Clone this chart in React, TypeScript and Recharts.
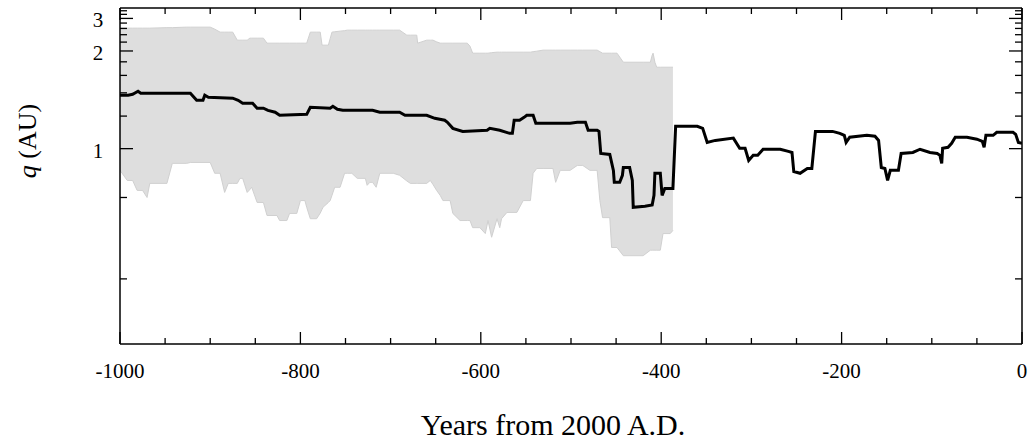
import React from 'react';
import { ComposedChart, Line, Area, XAxis, YAxis } from 'recharts';

// ---- data (years from 2000 A.D., perihelion distance q in AU) ----
const lineYears = [-1000, -991, -986, -980, -977, -922, -919, -915, -908, -906, -902, -875, -869, -864, -853, -848, -841, -836, -828, -823, -793, -789, -767, -764, -759, -753, -720, -712, -690, -684, -660, -651, -640, -637, -631, -620, -593, -590, -579, -568, -565, -563, -557, -552, -549, -542, -539, -501, -493, -484, -481, -471, -469, -467, -457, -453, -452, -446, -443, -442, -435, -432, -431, -418, -410, -408, -407, -401, -399, -396, -387, -384, -360, -354, -349, -340, -320, -313, -307, -303, -298, -293, -287, -268, -259, -255, -253, -246, -238, -233, -229, -210, -202, -197, -195, -191, -172, -163, -159, -156, -152, -149, -146, -137, -134, -121, -113, -102, -94, -91, -89, -88, -82, -78, -74, -61, -50, -44, -42, -40, -32, -28, -10, -7, -4, 0];
const lineQ = [1.376, 1.376, 1.386, 1.416, 1.396, 1.396, 1.366, 1.329, 1.329, 1.376, 1.357, 1.348, 1.329, 1.303, 1.303, 1.261, 1.261, 1.244, 1.229, 1.206, 1.213, 1.269, 1.261, 1.277, 1.252, 1.244, 1.244, 1.229, 1.229, 1.206, 1.206, 1.184, 1.17, 1.156, 1.116, 1.097, 1.104, 1.116, 1.104, 1.085, 1.085, 1.17, 1.17, 1.191, 1.206, 1.206, 1.149, 1.149, 1.156, 1.156, 1.104, 1.104, 1.097, 0.976, 0.971, 0.9, 0.853, 0.853, 0.88, 0.912, 0.912, 0.86, 0.769, 0.772, 0.776, 0.807, 0.888, 0.888, 0.807, 0.831, 0.831, 1.129, 1.129, 1.116, 1.033, 1.044, 1.057, 1.002, 1.002, 0.943, 0.967, 0.967, 0.997, 0.997, 0.986, 0.981, 0.895, 0.888, 0.908, 0.908, 1.097, 1.097, 1.085, 1.073, 1.033, 1.062, 1.073, 1.068, 1.044, 0.912, 0.908, 0.86, 0.9, 0.9, 0.976, 0.981, 0.997, 0.981, 0.976, 0.967, 0.93, 1.002, 1.007, 1.028, 1.062, 1.062, 1.051, 1.039, 1.007, 1.073, 1.073, 1.091, 1.091, 1.079, 1.033, 1.028];

const bandYears = [-1000, -992, -986, -981, -975, -970, -967, -948, -942, -926, -922, -900, -895, -889, -884, -880, -875, -870, -867, -864, -859, -856, -854, -848, -841, -837, -826, -823, -815, -812, -804, -800, -795, -793, -789, -782, -778, -776, -775, -769, -767, -765, -762, -756, -751, -748, -743, -737, -728, -726, -723, -720, -716, -712, -697, -690, -682, -678, -671, -670, -660, -656, -653, -649, -645, -642, -634, -631, -623, -615, -612, -609, -601, -595, -592, -588, -582, -579, -577, -571, -560, -553, -545, -542, -538, -531, -520, -517, -512, -501, -493, -487, -479, -471, -468, -465, -457, -455, -449, -442, -420, -412, -410, -409, -407, -405, -401, -398, -390, -387];
const bandLow = [0.9, 0.86, 0.86, 0.824, 0.824, 0.8, 0.849, 0.849, 0.93, 0.93, 0.934, 0.934, 0.888, 0.888, 0.817, 0.849, 0.849, 0.849, 0.868, 0.868, 0.817, 0.827, 0.835, 0.784, 0.784, 0.745, 0.745, 0.731, 0.731, 0.751, 0.751, 0.79, 0.79, 0.769, 0.736, 0.736, 0.752, 0.763, 0.769, 0.784, 0.79, 0.807, 0.835, 0.835, 0.888, 0.888, 0.888, 0.868, 0.868, 0.842, 0.853, 0.853, 0.835, 0.888, 0.888, 0.88, 0.858, 0.849, 0.849, 0.849, 0.849, 0.86, 0.845, 0.824, 0.807, 0.79, 0.79, 0.751, 0.731, 0.731, 0.731, 0.712, 0.712, 0.697, 0.731, 0.688, 0.736, 0.712, 0.736, 0.754, 0.754, 0.79, 0.79, 0.888, 0.908, 0.908, 0.908, 0.853, 0.9, 0.9, 0.921, 0.921, 0.9, 0.9, 0.79, 0.739, 0.739, 0.664, 0.664, 0.646, 0.646, 0.658, 0.658, 0.658, 0.658, 0.658, 0.658, 0.697, 0.697, 0.705];
const bandHigh = [2.61, 2.61, 2.61, 2.61, 2.61, 2.61, 2.61, 2.628, 2.628, 2.646, 2.646, 2.646, 2.576, 2.478, 2.478, 2.478, 2.478, 2.249, 2.249, 2.249, 2.249, 2.302, 2.302, 2.302, 2.302, 2.174, 2.174, 2.174, 2.174, 2.174, 2.174, 2.174, 2.174, 2.174, 2.478, 2.478, 2.478, 2.127, 2.127, 2.127, 2.289, 2.478, 2.49, 2.51, 2.526, 2.542, 2.542, 2.542, 2.542, 2.542, 2.542, 2.542, 2.542, 2.542, 2.542, 2.542, 2.387, 2.387, 2.387, 2.174, 2.249, 2.249, 2.249, 2.206, 2.174, 2.174, 2.174, 2.174, 2.174, 2.174, 2.104, 1.956, 1.956, 1.956, 1.956, 1.966, 1.976, 1.976, 1.976, 1.976, 1.976, 1.976, 1.976, 1.986, 1.996, 2.017, 2.017, 2.017, 2.017, 2.017, 2.017, 2.017, 2.017, 2.017, 1.986, 1.956, 1.956, 1.956, 1.956, 1.794, 1.794, 1.794, 1.917, 1.956, 1.794, 1.715, 1.715, 1.715, 1.715, 1.715];

const xTicks = [-1000, -950, -900, -850, -800, -750, -700, -650, -600, -550, -500, -450, -400, -350, -300, -250, -200, -150, -100, -50, 0];
const xMajorStep = 200;
const qTicks = [0.6, 0.8, 1, 1.2, 1.4, 1.6, 1.8, 2, 2.2, 2.4, 2.6, 2.8, 3, 3.2, 3.4];
const qLabels = [1, 2, 3];

const lineData = lineYears.map((year, i) => ({ year, q: lineQ[i] }));
const bandData = bandYears.map((year, i) => ({ year, low: bandLow[i], high: bandHigh[i] }));
const invTicks = qTicks.map((q) => 1 / q);

const W = 1035;
const H = 447;
const FONT = "'Liberation Serif', 'DejaVu Serif', serif";

const isMajorQ = (v: number) => qLabels.some((l) => Math.abs(1 / v - l) < 1e-6);

const BottomTick = (props: any) => {
  const { x, y, payload } = props;
  const v = payload.value;
  const major = v % xMajorStep === 0;
  return (
    <g>
      <line x1={x} x2={x} y1={y} y2={y - (major ? 12 : 6)} stroke="#000" strokeWidth={1.3} />
      {major && (
        <text x={x} y={y + 34} textAnchor="middle" fontSize={21} fontFamily={FONT} fill="#000">
          {v}
        </text>
      )}
    </g>
  );
};

const TopTick = (props: any) => {
  const { x, y, payload } = props;
  const major = payload.value % xMajorStep === 0;
  return <line x1={x} x2={x} y1={y} y2={y + (major ? 12 : 6)} stroke="#000" strokeWidth={1.3} />;
};

const LeftTick = (props: any) => {
  const { x, y, payload } = props;
  const major = isMajorQ(payload.value);
  const q = Math.round(1 / payload.value);
  return (
    <g>
      <line x1={x} x2={x + (major ? 13 : 7)} y1={y} y2={y} stroke="#000" strokeWidth={1.3} />
      {major && (
        <text x={x - 22} y={y + 9} textAnchor="middle" fontSize={21} fontFamily={FONT} fill="#000">
          {q}
        </text>
      )}
    </g>
  );
};

const RightTick = (props: any) => {
  const { x, y, payload } = props;
  const major = isMajorQ(payload.value);
  return <line x1={x} x2={x - (major ? 13 : 7)} y1={y} y2={y} stroke="#000" strokeWidth={1.3} />;
};

const axisLine = { stroke: '#000', strokeWidth: 1.5 };
const yDomain: [number, number] = [0.28, 2.0];

export default function App() {
  return (
    <div style={{ position: 'absolute', left: 0, top: 0, width: W, height: H, background: '#fff' }}>
      <ComposedChart width={W} height={H} margin={{ top: 7, right: 12, bottom: 0, left: 0 }}>
        <XAxis
          dataKey="year"
          type="number"
          domain={[-1000, 0]}
          allowDataOverflow
          ticks={xTicks}
          interval={0}
          height={103}
          tickSize={0}
          tickMargin={0}
          tickLine={false}
          axisLine={axisLine}
          tick={<BottomTick />}
        />
        <XAxis
          xAxisId="top"
          orientation="top"
          dataKey="year"
          type="number"
          domain={[-1000, 0]}
          allowDataOverflow
          ticks={xTicks}
          interval={0}
          height={1}
          tickSize={0}
          tickMargin={0}
          tickLine={false}
          axisLine={axisLine}
          tick={<TopTick />}
        />
        <YAxis
          type="number"
          domain={yDomain}
          allowDataOverflow
          reversed
          ticks={invTicks}
          interval={0}
          width={120}
          tickSize={0}
          tickMargin={0}
          tickLine={false}
          axisLine={axisLine}
          tick={<LeftTick />}
        />
        <YAxis
          yAxisId="right"
          orientation="right"
          type="number"
          domain={yDomain}
          allowDataOverflow
          reversed
          ticks={invTicks}
          interval={0}
          width={1}
          tickSize={0}
          tickMargin={0}
          tickLine={false}
          axisLine={axisLine}
          tick={<RightTick />}
        />
        <Area
          data={bandData}
          dataKey={(d: any) => [1 / d.low, 1 / d.high]}
          type="linear"
          fill="#dedede"
          fillOpacity={1}
          stroke="#d0d0d0"
          strokeWidth={1}
          isAnimationActive={false}
          dot={false}
          activeDot={false}
        />
        <Line
          data={lineData}
          dataKey={(d: any) => 1 / d.q}
          type="linear"
          stroke="#000"
          strokeWidth={3}
          dot={false}
          activeDot={false}
          isAnimationActive={false}
        />
        <Line
          data={lineData}
          xAxisId="top"
          yAxisId="right"
          dataKey={(d: any) => 1 / d.q}
          type="linear"
          stroke="none"
          strokeOpacity={0}
          dot={false}
          activeDot={false}
          legendType="none"
          isAnimationActive={false}
        />
      </ComposedChart>
      <div
        style={{
          position: 'absolute',
          left: 28,
          top: 141,
          transform: 'translate(-50%, -50%) rotate(-90deg)',
          whiteSpace: 'nowrap',
          fontFamily: FONT,
          fontSize: 26,
          lineHeight: 1,
          color: '#000',
        }}
      >
        <span style={{ fontStyle: 'italic' }}>q</span> (AU)
      </div>
      <div
        style={{
          position: 'absolute',
          left: 553,
          top: 425,
          transform: 'translate(-50%, -50%)',
          whiteSpace: 'nowrap',
          fontFamily: FONT,
          fontSize: 30,
          lineHeight: 1,
          color: '#000',
        }}
      >
        Years from 2000 A.D.
      </div>
    </div>
  );
}
